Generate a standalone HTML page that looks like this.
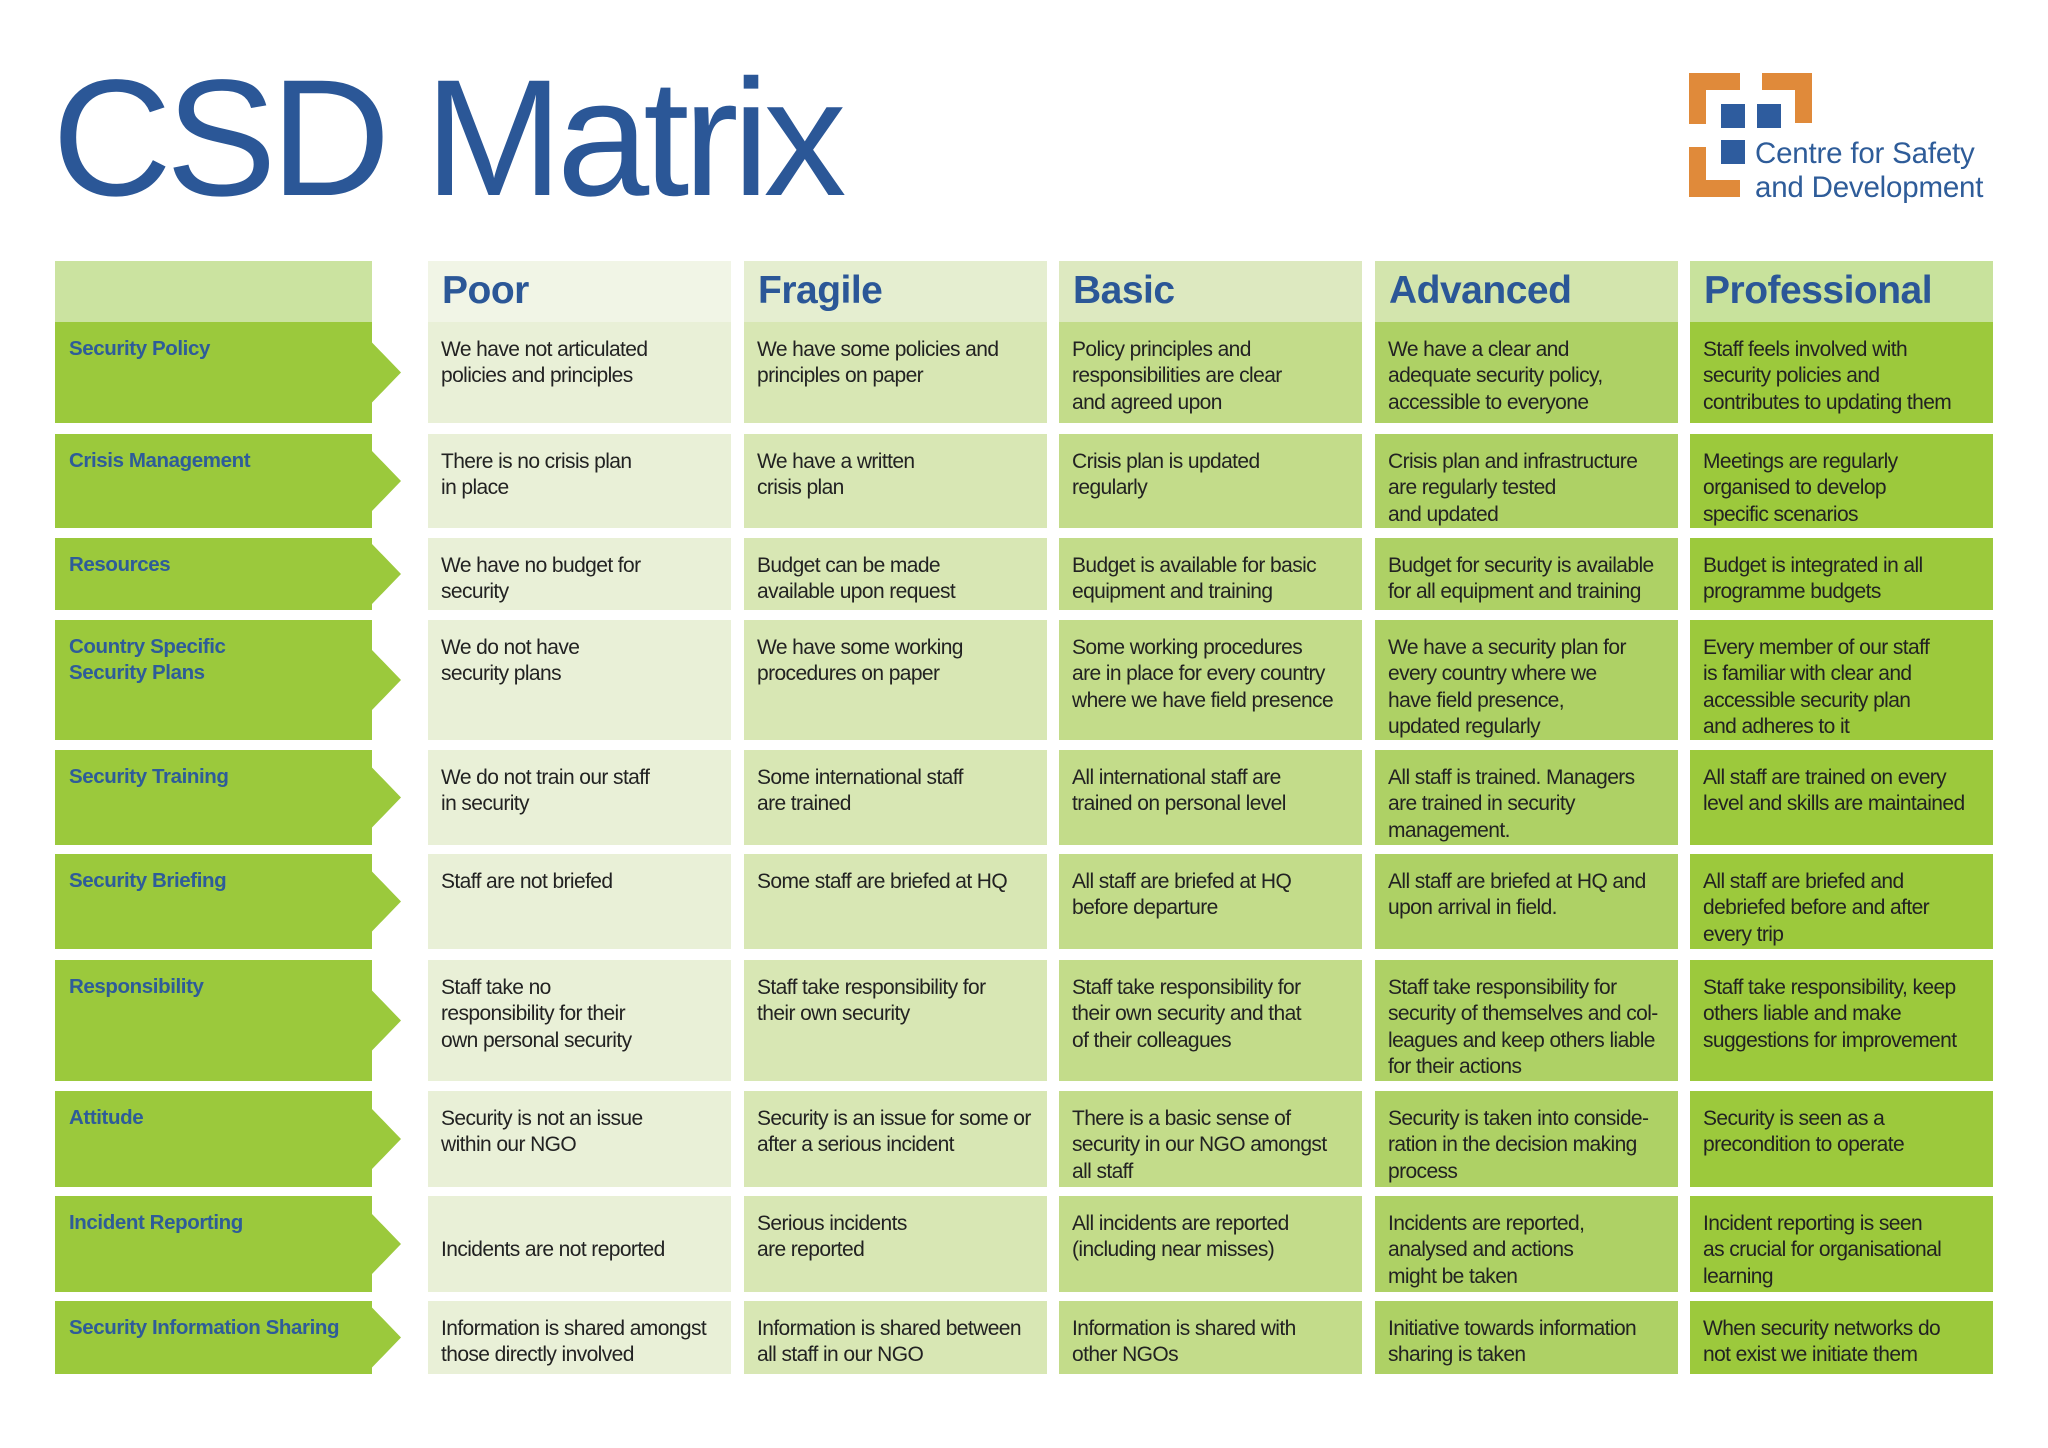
<!DOCTYPE html>
<html><head><meta charset="utf-8">
<style>
body{margin:0;background:#fff;width:2048px;height:1448px;position:relative;overflow:hidden;font-family:"Liberation Sans",sans-serif}
.abs{position:absolute}
.cell{position:absolute;box-sizing:border-box;padding:15px 0 0 13px;font-size:21px;line-height:26.3px;color:#222;white-space:nowrap;letter-spacing:-0.6px}
.hdr{position:absolute;box-sizing:border-box;padding:8px 0 0 14px;font-size:39px;font-weight:bold;color:#2b5797;letter-spacing:-0.5px}
.lbl{position:absolute;box-sizing:border-box;padding:14px 0 0 14px;font-size:20.5px;line-height:26px;font-weight:bold;color:#2e5c99;letter-spacing:-0.4px;white-space:nowrap}
</style></head><body>
<div class="abs" style="left:52px;top:41px;font-size:166px;color:#2b5797;letter-spacing:-6px;line-height:196px">CSD Matrix</div>
<svg class="abs" style="left:0;top:0" width="2048" height="260">
<g fill="#e08a3a">
<path d="M1689 73h51v17h-34v34h-17z"/>
<path d="M1762 73h50v50h-17v-33h-33z"/>
<path d="M1689 147h17v33h34v17h-51z"/>
</g>
<g fill="#2e5c9e">
<rect x="1721" y="104" width="24" height="24"/>
<rect x="1757" y="104" width="24" height="24"/>
<rect x="1721" y="140" width="24" height="24"/>
</g>
<text x="1755" y="163" font-family="Liberation Sans, sans-serif" font-size="29.5" fill="#2e5c99" letter-spacing="-0.2">Centre for Safety</text>
<text x="1755" y="197" font-family="Liberation Sans, sans-serif" font-size="29.5" fill="#2e5c99" letter-spacing="-0.2">and Development</text>
</svg>
<div id="grid"></div>
<script>
const levels=["Poor","Fragile","Basic","Advanced","Professional"];
const topics=["Security Policy","Crisis Management","Resources","Country Specific<br>Security Plans","Security Training","Security Briefing","Responsibility","Attitude","Incident Reporting","Security Information Sharing"];
const cells=[
["We have not articulated<br>policies and principles","We have some policies and<br>principles on paper","Policy principles and<br>responsibilities are clear<br>and agreed upon","We have a clear and<br>adequate security policy,<br>accessible to everyone","Staff feels involved with<br>security policies and<br>contributes to updating them"],
["There is no crisis plan<br>in place","We have a written<br>crisis plan","Crisis plan is updated<br>regularly","Crisis plan and infrastructure<br>are  regularly tested<br>and updated","Meetings are regularly<br>organised to develop<br>specific scenarios"],
["We have no budget for<br>security","Budget can be made<br>available upon request","Budget is available for basic<br>equipment and training","Budget for security is available<br>for all equipment and training","Budget is integrated in all<br>programme budgets"],
["We do not have<br>security plans","We have some working<br>procedures on paper","Some working procedures<br>are in place for every country<br>where we have field presence","We have a security plan for<br>every country where we<br>have field presence,<br>updated regularly","Every member of our staff<br>is familiar with clear and<br>accessible security plan<br>and adheres to it"],
["We do not train our staff<br>in security","Some international staff<br>are trained","All international staff are<br>trained on personal level","All staff is trained. Managers<br>are trained in security<br>management.","All staff are trained on every<br>level and skills are maintained"],
["Staff are not briefed","Some staff are briefed at HQ","All staff are briefed at HQ<br>before departure","All staff are briefed at HQ and<br>upon arrival in field.","All staff are briefed and<br>debriefed before and after<br>every trip"],
["Staff  take no<br>responsibility for their<br>own personal security","Staff take responsibility for<br>their own security","Staff take responsibility for<br>their own security and that<br>of their colleagues","Staff take responsibility  for<br>security of themselves and col-<br>leagues and keep others liable<br>for their actions","Staff take responsibility, keep<br>others liable and make<br>suggestions for improvement"],
["Security is not an issue<br>within our NGO","Security is an issue for some or<br>after a serious incident","There is a basic sense of<br>security in our NGO amongst<br>all staff","Security is taken into conside-<br>ration in the decision making<br>process","Security is seen as a<br>precondition to operate"],
["<br>Incidents are not reported","Serious incidents<br>are reported","All incidents are reported<br>(including near misses)","Incidents are reported,<br>analysed and actions<br>might be taken","Incident reporting is seen<br>as crucial for organisational<br>learning"],
["Information is shared amongst<br>those directly involved","Information is shared between<br>all staff in our NGO","Information is shared with<br>other NGOs","Initiative towards information<br>sharing is taken","When security networks do<br>not exist we initiate them"]];
const rowTop=[322,434,538,620,750,854,960,1091,1196,1301];
const rowBot=[423,528,610,740,845,949,1081,1187,1292,1374];
const colX=[428,744,1059,1375,1690];
const colW=303;
const hdrBg=["#f1f5e6","#e5eed0","#dde9c0","#d3e5ad","#c8e29c"];
const cellBg=["#e9f0d7","#d8e7b4","#c3dc8a","#aed165","#9cc93c"];
const g=document.getElementById('grid');
function mk(cls,css,html){const d=document.createElement('div');d.className=cls;d.style.cssText=css;d.innerHTML=html;g.appendChild(d);return d;}
const corner=mk('abs','left:55px;top:261px;width:317px;height:61px;background:#cbe3a0','');


levels.forEach((L,j)=>{
 const h=mk('hdr',`left:${colX[j]}px;top:261px;width:${colW}px;height:61px;background:${hdrBg[j]}`,L);
 
 
});
const svgNS='http://www.w3.org/2000/svg';
topics.forEach((t,i)=>{
 const top=rowTop[i],h=rowBot[i]-top;
 const s=document.createElementNS(svgNS,'svg');
 s.setAttribute('class','abs');s.style.left='55px';s.style.top=top+'px';
 s.setAttribute('width','350');s.setAttribute('height',h);
 const p=document.createElementNS(svgNS,'polygon');
 p.setAttribute('points',`0,0 317,0 317,${h/2-30} 346,${h/2} 317,${h/2+30} 317,${h} 0,${h}`);
 p.setAttribute('fill','#9bc93c');s.appendChild(p);
 
 
 g.appendChild(s);
 const l=mk('lbl',`left:55px;top:${top}px;width:317px;height:${h}px`,t);
 
 
 levels.forEach((L,j)=>{
  const c=mk('cell',`left:${colX[j]}px;top:${top}px;width:${colW}px;height:${h}px;background:${cellBg[j]}`,cells[i][j]);
  
  
 });
});
</script>
</body></html>
